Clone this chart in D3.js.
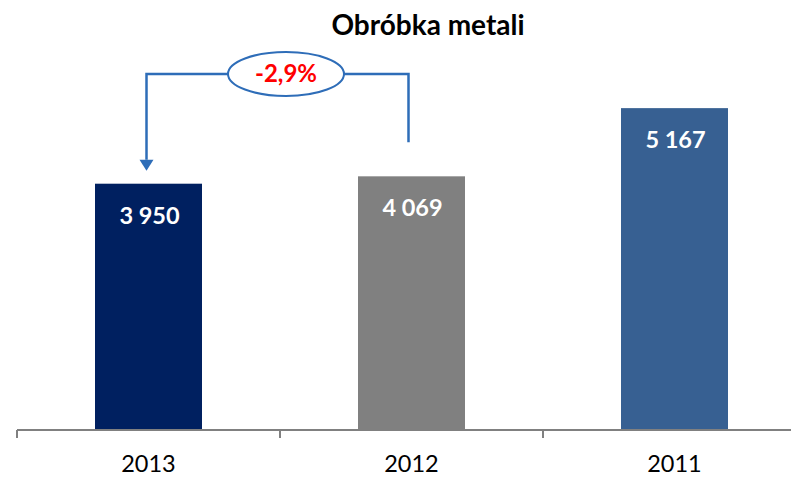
<!DOCTYPE html>
<html><head><meta charset="utf-8">
<script src="https://cdn.jsdelivr.net/npm/d3@7"></script>
<style>body{margin:0;background:#fff}svg{display:block}</style>
</head><body>
<svg id="c" width="791" height="477"></svg>
<script>
const categories = ["2013", "2012", "2011"];
const values = [3950, 4069, 5167];
const valueLabels = ["3 950", "4 069", "5 167"];
const colors = ["#002060", "#808080", "#376092"];
const title = "Obróbka metali";
const changeLabel = "-2,9%";

const svg = d3.select("#c");
const font = "Lato, 'Open Sans', sans-serif";
const x = d3.scaleBand().domain(categories).range([17, 806]).paddingInner(0).paddingOuter(0);
const y = d3.scaleLinear().domain([0, 5000]).range([429, 118.5]);
const bw = 107;

svg.append("text").attr("x", 428).attr("y", 35).attr("text-anchor", "middle")
  .attr("font-family", font).attr("font-weight", "bold").attr("font-size", 28).attr("fill", "#000").text(title);

svg.selectAll("rect.bar").data(values).enter().append("rect")
  .attr("x", (d, i) => x(categories[i]) + x.bandwidth() / 2 - bw / 2)
  .attr("y", d => y(d)).attr("width", bw).attr("height", d => y(0) - y(d))
  .attr("fill", (d, i) => colors[i]);

svg.selectAll("text.val").data(values).enter().append("text")
  .attr("x", (d, i) => x(categories[i]) + x.bandwidth() / 2 + 1)
  .attr("y", d => y(d) + 40).attr("text-anchor", "middle")
  .attr("font-family", font).attr("font-weight", "bold").attr("font-size", 23.5).attr("fill", "#fff")
  .text((d, i) => valueLabels[i]);

// axis
const axisG = svg.append("g").attr("transform", "translate(0,430)");
axisG.append("line").attr("x1", 17).attr("x2", 791).attr("y1", 0).attr("y2", 0).attr("stroke", "#808080").attr("stroke-width", 2);
const tickXs = categories.map(c => x(c)).concat([x.range()[1]]);
axisG.selectAll("line.tick").data(tickXs).enter().append("line")
  .attr("x1", d => d).attr("x2", d => d).attr("y1", 0).attr("y2", 8)
  .attr("stroke", "#808080").attr("stroke-width", 2);
axisG.selectAll("text.cat").data(categories).enter().append("text")
  .attr("x", d => x(d) + x.bandwidth() / 2).attr("y", 42).attr("text-anchor", "middle")
  .attr("font-family", font).attr("font-size", 23.5).attr("fill", "#000").text(d => d);

// change annotation
const cx1 = x("2013") + x.bandwidth() / 2 - 2;
const cx2 = x("2012") + x.bandwidth() / 2 - 3;
const lineY = 74;
const arrowColor = "#2E6DB8";
svg.append("path")
  .attr("d", `M${cx2},${y(values[1]) - 34} V${lineY} H${cx1} V${y(values[0]) - 24}`)
  .attr("fill", "none").attr("stroke", arrowColor).attr("stroke-width", 2.5);
svg.append("path")
  .attr("d", `M${cx1 - 7},${y(values[0]) - 24} L${cx1 + 7},${y(values[0]) - 24} L${cx1},${y(values[0]) - 13} Z`)
  .attr("fill", arrowColor);
svg.append("ellipse").attr("cx", 286).attr("cy", lineY).attr("rx", 58).attr("ry", 22)
  .attr("fill", "#fff").attr("stroke", arrowColor).attr("stroke-width", 2);
svg.append("text").attr("x", 286).attr("y", lineY + 8).attr("text-anchor", "middle")
  .attr("font-family", font).attr("font-weight", "bold").attr("font-size", 24).attr("fill", "#FF0000").text(changeLabel);
</script>
</body></html>
